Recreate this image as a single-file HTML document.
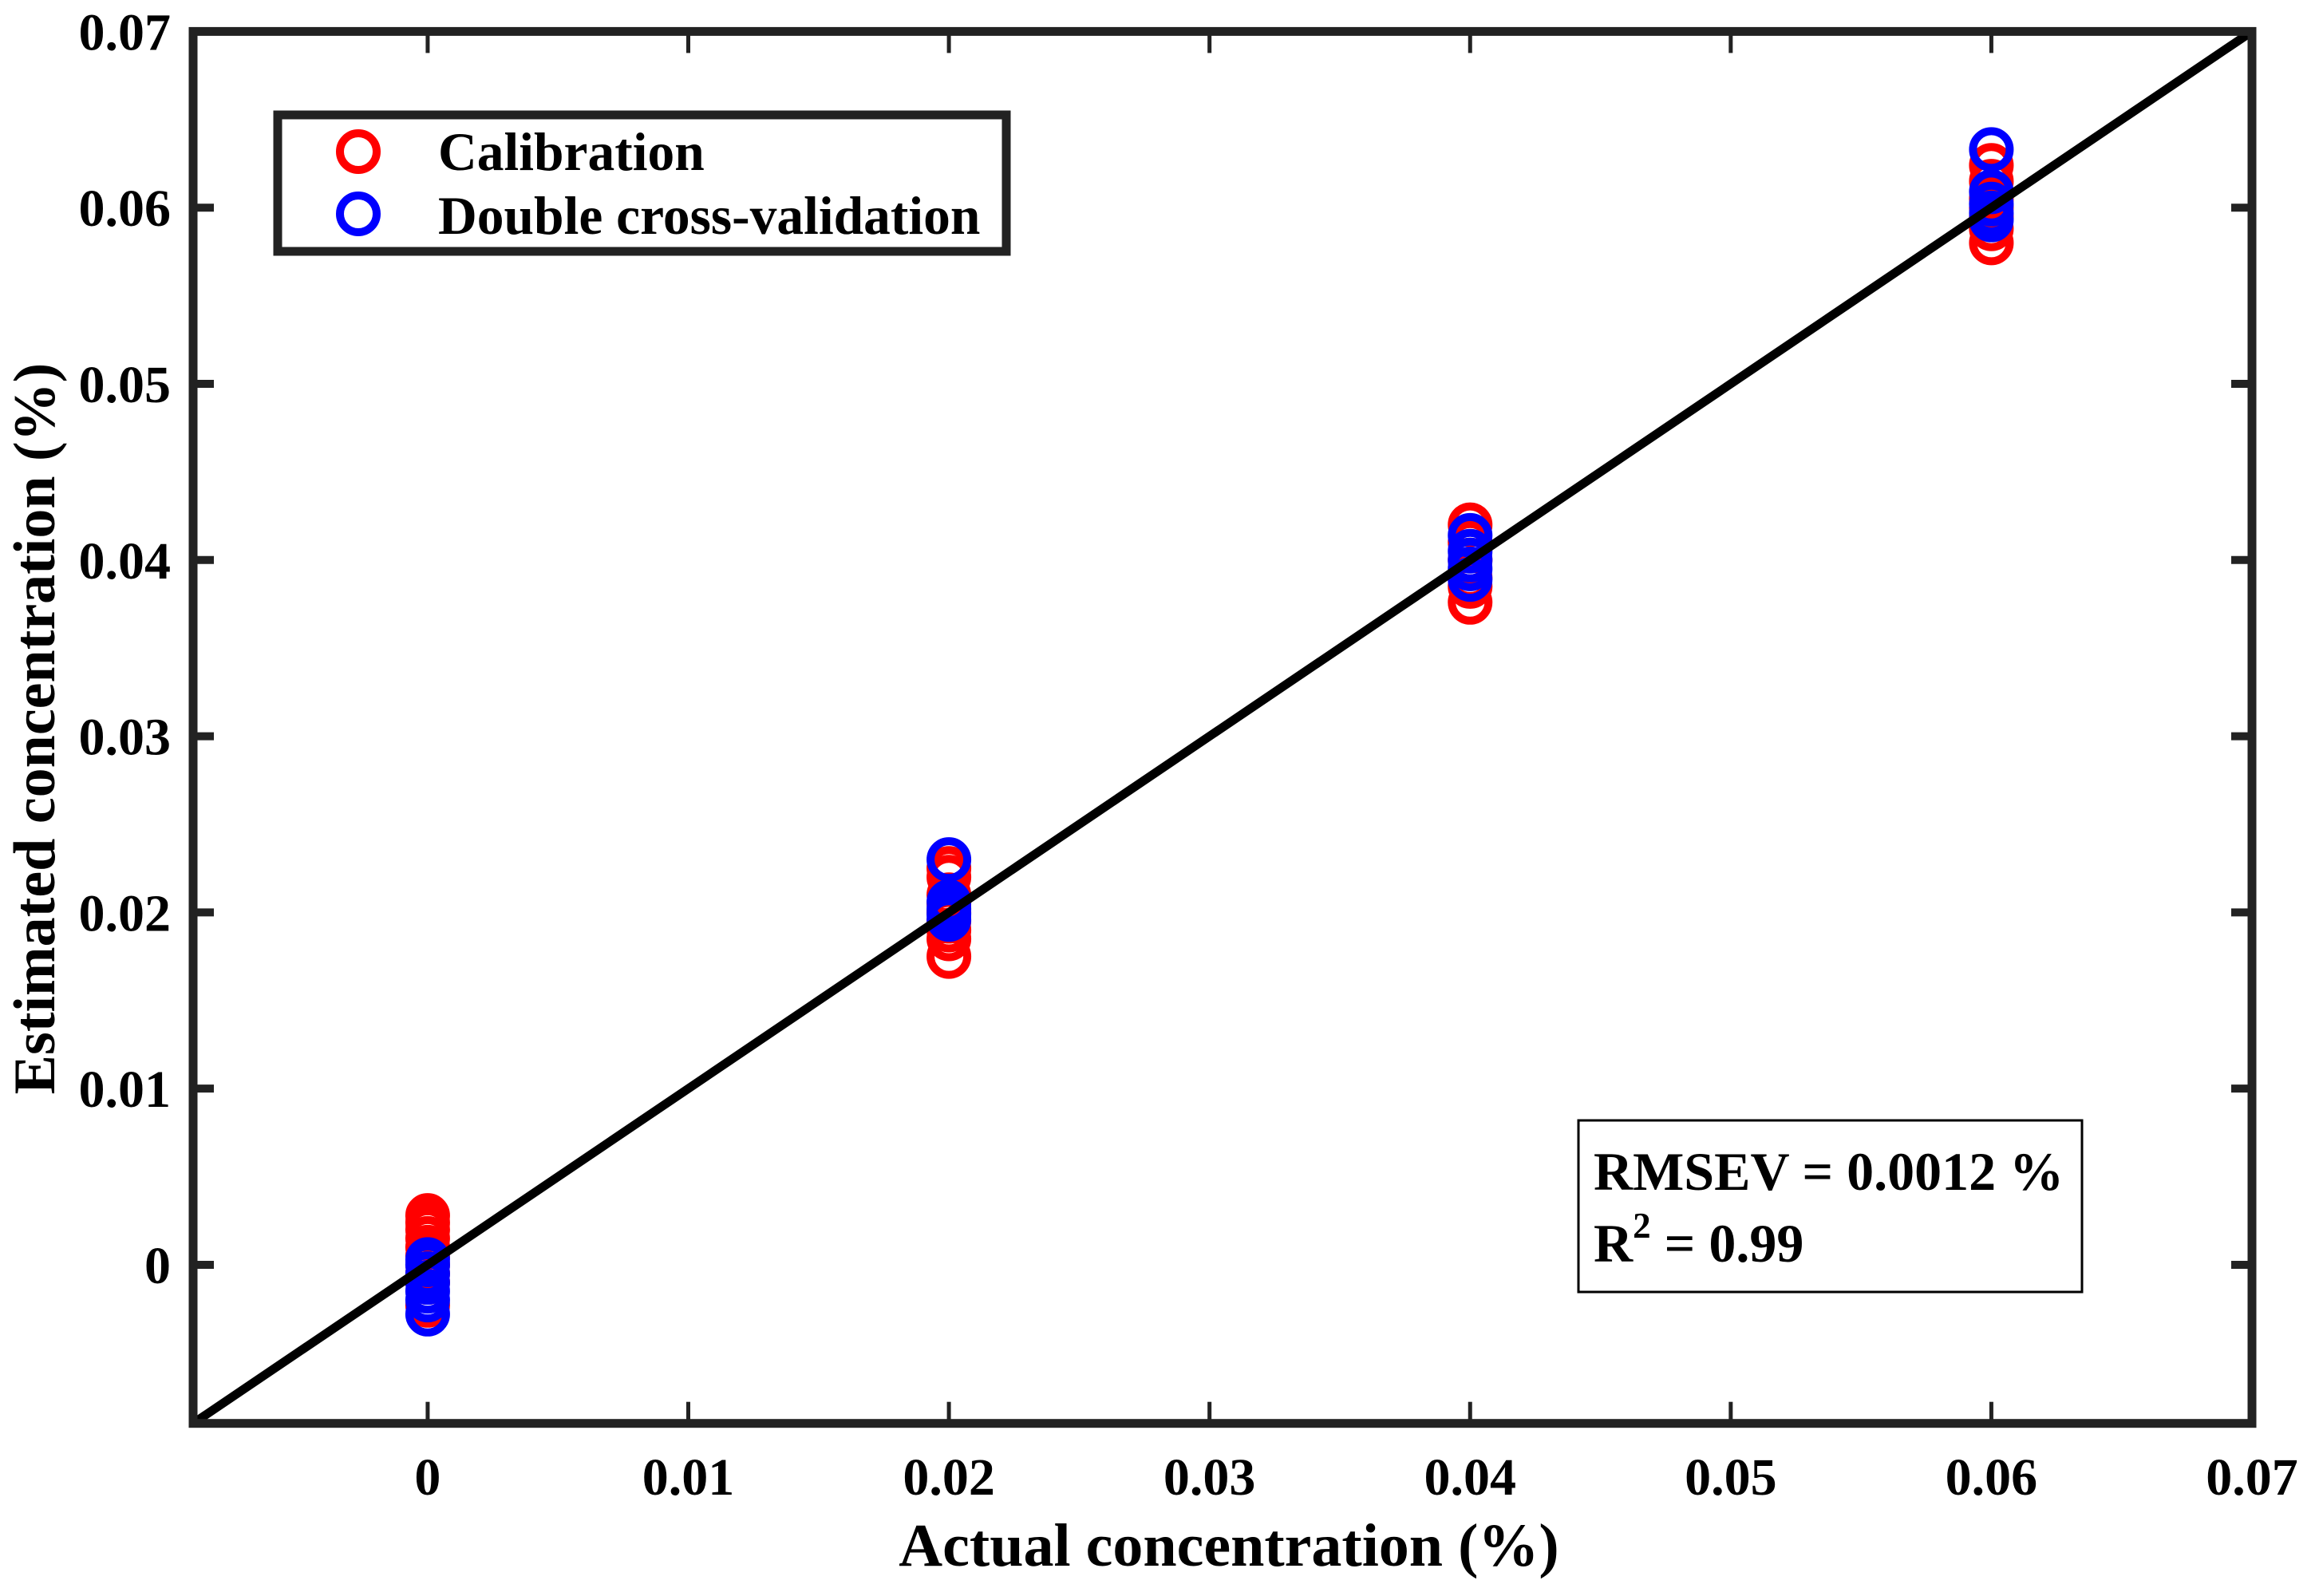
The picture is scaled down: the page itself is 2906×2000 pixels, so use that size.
<!DOCTYPE html>
<html><head><meta charset="utf-8"><style>
html,body{margin:0;padding:0;background:#fff}
svg{display:block}
text{font-family:"Liberation Serif",serif;font-weight:bold;fill:#000}
</style></head><body>
<svg id="chart" width="2906" height="2000" viewBox="0 0 2906 2000" xmlns="http://www.w3.org/2000/svg">
<g id="marks"></g>
<g id="axes"></g>
<text x="1540" y="1962" font-size="76" text-anchor="middle">Actual concentration (%)</text>
<text x="0" y="0" font-size="74" text-anchor="middle" transform="translate(68,913) rotate(-90)">Estimated concentration (%)</text>
<g>
<rect x="348" y="144" width="913" height="171" fill="#fff" stroke="#222" stroke-width="11"/>
<circle cx="449" cy="190" r="23" fill="none" stroke="#ff0000" stroke-width="10"/>
<text x="549" y="213" font-size="67.5">Calibration</text>
<circle cx="449" cy="268" r="23" fill="none" stroke="#0000ff" stroke-width="10"/>
<text x="549" y="293" font-size="67.5">Double cross-validation</text>
</g>
<g>
<rect x="1978" y="1404" width="631" height="215" fill="#fff" stroke="#000" stroke-width="3"/>
<text x="1997" y="1491" font-size="68">RMSEV = 0.0012 %</text>
<text x="1997" y="1581" font-size="68">R<tspan dy="-30" font-size="45">2</tspan><tspan dy="30"> = 0.99</tspan></text>
</g>
</svg>
<script>
const xTicks = [0, 0.01, 0.02, 0.03, 0.04, 0.05, 0.06, 0.07];
const xTickLabels = ["0", "0.01", "0.02", "0.03", "0.04", "0.05", "0.06", "0.07"];
const yTicks = [0, 0.01, 0.02, 0.03, 0.04, 0.05, 0.06, 0.07];
const yTickLabels = ["0", "0.01", "0.02", "0.03", "0.04", "0.05", "0.06", "0.07"];
const calX = [0,0,0,0,0,0,0,0,0,0, 0.02,0.02,0.02,0.02,0.02,0.02,0.02,0.02,0.02, 0.04,0.04,0.04,0.04,0.04,0.04, 0.06,0.06,0.06,0.06,0.06,0.06,0.06];
const calY = [0.0028,0.0024,0.002,0.0015,0.001,0.0005,0,-0.0005,-0.001,-0.0023, 0.0225,0.022,0.021,0.0205,0.02,0.0195,0.019,0.0185,0.0175, 0.042,0.041,0.040,0.039,0.0385,0.0376, 0.0624,0.0615,0.0605,0.06,0.0595,0.0588,0.058];
const valX = [0,0,0,0,0,0,0, 0.02,0.02,0.02,0.02,0.02, 0.04,0.04,0.04,0.04,0.04, 0.06,0.06,0.06,0.06,0.06];
const valY = [0.0003,0,-0.0005,-0.001,-0.0015,-0.002,-0.0028, 0.023,0.0206,0.0202,0.0199,0.0196, 0.0414,0.0405,0.040,0.0395,0.0389, 0.0633,0.0609,0.0602,0.0597,0.0593];
const xMin = -0.009, xMax = 0.07, yMin = -0.009, yMax = 0.07;

const L = 242, R = 2822, T = 39.4, B = 1783.7;
function sx(v){ return L + (v - xMin) / (xMax - xMin) * (R - L); }
function sy(v){ return B - (v - yMin) / (yMax - yMin) * (B - T); }
const NS = "http://www.w3.org/2000/svg";
function mk(tag, attrs, parent){ const e = document.createElementNS(NS, tag); for (const k in attrs) e.setAttribute(k, attrs[k]); parent.appendChild(e); return e; }
const marks = document.getElementById('marks');
const axes = document.getElementById('axes');

calX.forEach((x, i) => {
  const c = mk('circle', {cx: sx(x), cy: sy(calY[i]), r: 23, fill: 'none', stroke: '#ff0000', 'stroke-width': 10}, marks);
  
  
});
valX.forEach((x, i) => {
  const c = mk('circle', {cx: sx(x), cy: sy(valY[i]), r: 23, fill: 'none', stroke: '#0000ff', 'stroke-width': 10}, marks);
  
  
});
const ln = mk('line', {x1: sx(xMin), y1: sy(yMin), x2: sx(xMax), y2: sy(yMax), stroke: '#000', 'stroke-width': 11}, marks);



xTicks.forEach((v, i) => {
  const x = sx(v);
  const t1 = mk('line', {x1: x, y1: B, x2: x, y2: B - 27, stroke: '#222', 'stroke-width': 5}, axes);
  
  
  const t2 = mk('line', {x1: x, y1: T, x2: x, y2: T + 27, stroke: '#222', 'stroke-width': 5}, axes);
  
  
  const tx = mk('text', {x: x, y: 1873, 'font-size': 66, 'text-anchor': 'middle'}, axes);
  tx.textContent = xTickLabels[i];
  
  
});
yTicks.forEach((v, i) => {
  const y = sy(v);
  const t1 = mk('line', {x1: L, y1: y, x2: L + 26, y2: y, stroke: '#222', 'stroke-width': 10}, axes);
  
  
  const t2 = mk('line', {x1: R, y1: y, x2: R - 26, y2: y, stroke: '#222', 'stroke-width': 10}, axes);
  
  
  const tx = mk('text', {x: 214, y: y + 23, 'font-size': 66, 'text-anchor': 'end'}, axes);
  tx.textContent = yTickLabels[i];
  
  
});
const frame = mk('rect', {x: L, y: T, width: R - L, height: B - T, fill: 'none', stroke: '#222', 'stroke-width': 11}, axes);


</script>
</body></html>
